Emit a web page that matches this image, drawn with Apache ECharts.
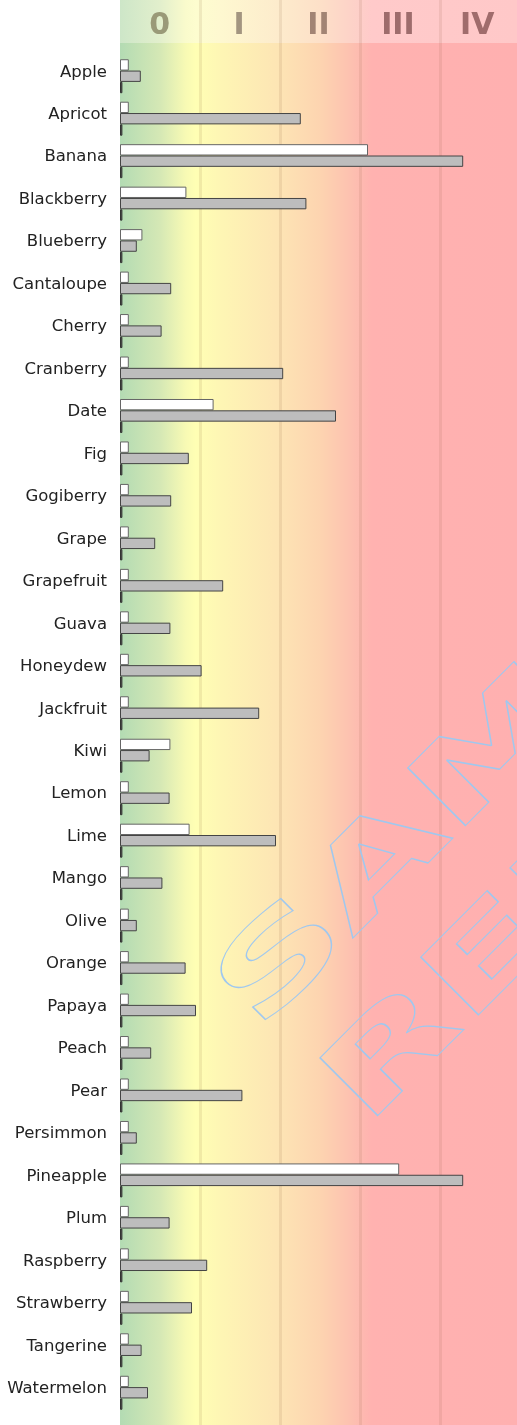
<!DOCTYPE html>
<html lang="en">
<head>
<meta charset="UTF-8">
<title>Fruit levels</title>
<script src="https://cdn.jsdelivr.net/npm/echarts@6/dist/echarts.min.js"></script>
<style>html,body{margin:0;padding:0;background:#fff}</style>
</head>
<body>
<div id="chart" style="width:517px;height:1425px"></div>
<script type="text/javascript">
var fruits = ['Apple','Apricot','Banana','Blackberry','Blueberry','Cantaloupe','Cherry','Cranberry',
    'Date','Fig','Gogiberry','Grape','Grapefruit','Guava','Honeydew','Jackfruit','Kiwi','Lemon',
    'Lime','Mango','Olive','Orange','Papaya','Peach','Pear','Persimmon','Pineapple','Plum',
    'Raspberry','Strawberry','Tangerine','Watermelon'];
var whiteVals = [0.11,0.11,3.10,0.83,0.28,0.11,0.11,0.11,1.17,0.11,0.11,0.11,0.11,0.11,0.11,0.11,
    0.63,0.11,0.87,0.11,0.11,0.11,0.11,0.11,0.11,0.11,3.49,0.11,0.11,0.11,0.11,0.11];
var grayVals = [0.26,2.26,4.29,2.33,0.21,0.64,0.52,2.04,2.70,0.86,0.64,0.44,1.29,0.63,1.02,1.74,
    0.37,0.62,1.95,0.53,0.21,0.82,0.95,0.39,1.53,0.21,4.29,0.62,1.09,0.90,0.27,0.35];
var darkVals = [0.03,0.03,0.03,0.03,0.03,0.03,0.03,0.03,0.03,0.03,0.03,0.03,0.03,0.03,0.03,0.03,
    0.03,0.03,0.03,0.03,0.03,0.03,0.03,0.03,0.03,0.03,0.03,0.03,0.03,0.03,0.03,0.03];
var levels = ['0','I','II','III','IV'];
var levelColors = ['#9a9a78','#a39580','#a28474','#9e6c6c','#a06c6c'];
// one level = 80px, plot runs from x=120 to the right edge (397px)
var xMax = 397 / 80;

var chart = echarts.init(document.getElementById('chart'));

function grad(stops) {
    return {type:'linear', x:0, y:0, x2:1, y2:0,
        colorStops: stops.map(function(s){ return {offset:s[0] * 400 / 397, color:s[1]}; })};
}
var mainBg = grad([[0,'#b3dbb3'],[0.1,'#d5e8b5'],[0.165,'#f8fab4'],[0.19,'#ffffb4'],[0.25,'#fef6b4'],
    [0.4,'#fde4b4'],[0.5,'#fdd4b0'],[0.58,'#fdc0b0'],[0.63,'#ffb2b0'],[0.99,'#ffb0b0']]);
var headBg = grad([[0,'#cde6c8'],[0.1,'#e2efcc'],[0.165,'#fafbcc'],[0.19,'#fdfdcf'],[0.25,'#fef8d0'],
    [0.4,'#fdebcc'],[0.5,'#fde0c8'],[0.58,'#fdd2c8'],[0.63,'#ffcaca'],[0.99,'#ffc8c8']]);
var vline = {color:'rgba(120,70,40,0.1)', width:3};

chart.setOption({
    animation:false,
    grid:[
        {left:120, right:0, top:0, height:43, show:true, backgroundColor:headBg, borderWidth:0},
        {left:120, right:0, top:43, bottom:0, show:true, backgroundColor:mainBg, borderWidth:0},
        {left:120, right:0, top:55, bottom:11},
        {left:120, right:0, top:51, bottom:15}
    ],
    xAxis:[
        {gridIndex:0, type:'value', min:0, max:xMax, interval:1, position:'top', axisLine:{show:false},
            axisTick:{show:false}, axisLabel:{show:false},
            splitLine:{show:true, showMinLine:false, showMaxLine:false, lineStyle:vline}},
        {gridIndex:0, type:'category', data:levels, position:'bottom', axisLine:{show:false},
            axisTick:{show:false}, splitLine:{show:false},
            axisLabel:{inside:true, margin:17, verticalAlign:'middle', fontSize:30, fontWeight:'bold',
                fontFamily:'DejaVu Sans',
                color:function(v){ return levelColors[levels.indexOf(v)]; }}},
        {gridIndex:1, type:'value', min:0, max:xMax, interval:1, axisLine:{show:false}, axisTick:{show:false},
            axisLabel:{show:false}, splitLine:{show:true, showMinLine:false, showMaxLine:false, lineStyle:vline}},
        {gridIndex:2, type:'value', min:0, max:xMax, show:false},
        {gridIndex:3, type:'value', min:0, max:xMax, show:false}
    ],
    yAxis:[
        {gridIndex:0, type:'value', show:false},
        {gridIndex:1, type:'value', show:false},
        {gridIndex:2, type:'category', data:fruits, inverse:true, show:false},
        {gridIndex:3, type:'category', data:fruits, inverse:true, axisLine:{show:false}, axisTick:{show:false},
            axisLabel:{color:'#222', fontSize:16.5, fontFamily:'DejaVu Sans', margin:13}}
    ],
    series:[
        {type:'bar', xAxisIndex:3, yAxisIndex:2, data:whiteVals, barGap:'0%', barCategoryGap:'20%',
            itemStyle:{color:'#ffffff', borderColor:'#666', borderWidth:1}},
        {type:'bar', xAxisIndex:3, yAxisIndex:2, data:grayVals,
            itemStyle:{color:'#bdbdbd', borderColor:'#444', borderWidth:1}},
        {type:'bar', xAxisIndex:3, yAxisIndex:2, data:darkVals,
            itemStyle:{color:'#555', borderColor:'#333', borderWidth:1}}
    ],
    graphic:[
        {type:'text', x:585, y:766, rotation:Math.PI/4, scaleX:1.65, scaleY:1, z:50, silent:true,
            style:{text:'SAMPLE\nREPORT', font:'bold 112px "DejaVu Sans"', fill:'rgba(0,0,0,0)',
                stroke:'#9fc8ef', lineWidth:1, align:'center', verticalAlign:'middle', lineHeight:143}}
    ]
});
</script>
</body>
</html>
